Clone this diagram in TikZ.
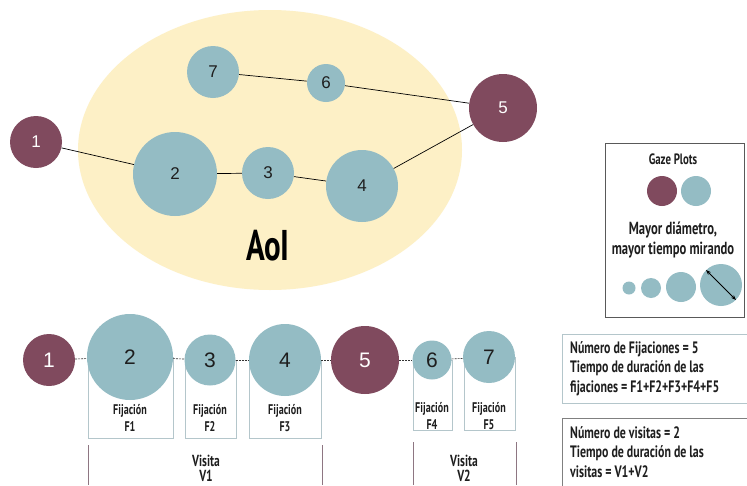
\documentclass[tikz,border=0pt]{standalone}
\usepackage{fontspec}
\setmainfont{PT Sans}[FakeStretch=0.72]
\newfontfamily\numfont{Liberation Sans}
\usetikzlibrary{arrows.meta}
\definecolor{gzmaroon}{HTML}{804A5E}
\definecolor{gzteal}{HTML}{94BCC4}
\definecolor{gzaoi}{HTML}{FDF0C6}
\definecolor{gzbox}{HTML}{B4C6CB}
\definecolor{gzvis}{HTML}{8E7682}
\definecolor{gztext}{HTML}{1E1E1E}
\begin{document}
\begin{tikzpicture}[x=1pt,y=-1pt,
  fixm/.style={circle, fill=gzmaroon, draw=none, inner sep=0pt, text=white, font=\numfont\fontsize{17}{17}\selectfont},
  fixt/.style={circle, fill=gzteal, draw=none, inner sep=0pt, text=gztext, font=\numfont\fontsize{17}{17}\selectfont},
  bignum/.style={font=\numfont\fontsize{21}{21}\selectfont},
  conn/.style={draw=black, line width=0.7pt},
  dashconn/.style={draw=black!80, line width=0.6pt, dash pattern=on 2pt off 1pt},
  fixbox/.style={draw=gzbox, line width=0.8pt},
  boxlabel/.style={align=center, text=gztext, font=\bfseries\fontsize{14}{17}\selectfont, inner sep=0pt},
  vline/.style={draw=gzvis, line width=0.9pt},
  vislabel/.style={align=center, text=gztext, font=\bfseries\fontsize{16}{15}\selectfont, inner sep=0pt},
  infotext/.style={align=left, anchor=north west, text=gztext, font=\bfseries\fontsize{16.5}{19.5}\selectfont, inner sep=0pt},
  legtext/.style={align=center, text=gztext, font=\bfseries\fontsize{17.5}{20}\selectfont, inner sep=0pt}
]
\useasboundingbox (0,0) rectangle (747,485);
\fill[white] (0,0) rectangle (747,485);

% ---- AoI area ----
\fill[gzaoi] (270,150) ellipse [x radius=192, y radius=140];
\node[text=black, font=\bfseries\fontsize{43}{43}\selectfont, inner sep=0pt] (aoilabel) at (268,246) {AoI};

% ---- top gaze plot ----
\node[fixm, minimum size=52pt] (t1) at (36,142) {1};
\node[fixt, minimum size=84pt] (t2) at (175,174) {2};
\node[fixt, minimum size=52pt] (t3) at (268,173) {3};
\node[fixt, minimum size=72pt] (t4) at (362,186) {4};
\node[fixm, minimum size=68pt] (t5) at (503,108) {5};
\node[fixt, minimum size=38pt] (t6) at (326,83) {6};
\node[fixt, minimum size=52pt] (t7) at (213,72) {7};
\draw[conn] (t1) -- (t2);
\draw[conn] (t2) -- (t3);
\draw[conn] (t3) -- (t4);
\draw[conn] (t4) -- (t5);
\draw[conn] (t5) -- (t6);
\draw[conn] (t6) -- (t7);

% ---- legend ----
\draw[draw=black!65, line width=1pt] (605,143) rectangle (744,317);
\node[legtext, font=\bfseries\fontsize{15}{15}\selectfont] (gazetitle) at (673,159) {Gaze Plots};
\node[fixm, minimum size=30pt] (lm) at (662,191) {};
\node[fixt, minimum size=30pt] (lt) at (696,191) {};
\node[legtext] (legdesc) at (673,240) {Mayor diámetro,\\mayor tiempo mirando};
\node[fixt, minimum size=13pt] (s1) at (629,288) {};
\node[fixt, minimum size=20pt] (s2) at (651,288) {};
\node[fixt, minimum size=30pt] (s3) at (681,287) {};
\node[fixt, minimum size=42pt] (s4) at (721,285) {};
\draw[line width=0.8pt, {Stealth[length=5pt]}-{Stealth[length=5pt]}] (s4.north west) -- (s4.south east);

% ---- bottom sequence: boxes ----
\draw[fixbox] (88,357) rectangle (173,438);
\draw[fixbox] (185,360) rectangle (236,438);
\draw[fixbox] (249,360) rectangle (321,438);
\draw[fixbox] (413,360) rectangle (452,430);
\draw[fixbox] (464,357) rectangle (515,430);

% ---- bottom sequence: circles ----
\node[fixm, bignum, minimum size=52pt] (b1) at (49,360) {1};
\node[fixt, bignum, text=gztext, minimum size=86pt] (b2) at (130,357) {2};
\node[fixt, bignum, text=gztext, minimum size=51pt] (b3) at (210,360) {3};
\node[fixt, bignum, text=gztext, minimum size=72pt] (b4) at (285,360) {4};
\node[fixm, bignum, text=white, minimum size=68pt] (b5) at (365,360) {5};
\node[fixt, bignum, text=gztext, minimum size=39pt] (b6) at (432,360) {6};
\node[fixt, bignum, text=gztext, minimum size=52pt] (b7) at (489,357) {7};
\draw[dashconn] (b1) -- (b2);
\draw[dashconn] (b2) -- (b3);
\draw[dashconn] (b3) -- (b4);
\draw[dashconn] (b4) -- (b5);
\draw[dashconn] (b5) -- (b6);
\draw[dashconn] (b6) -- (b7);

\node[boxlabel] (f1) at (130,418) {Fijación\\F1};
\node[boxlabel] (f2) at (210,418) {Fijación\\F2};
\node[boxlabel] (f3) at (285,418) {Fijación\\F3};
\node[boxlabel] (f4) at (432,416) {Fijación\\F4};
\node[boxlabel] (f5) at (489,416) {Fijación\\F5};

% ---- visits ----
\draw[vline] (88,445) -- (88,485);
\draw[vline] (322,445) -- (322,485);
\node[vislabel] (v1) at (206,468.5) {Visita\\V1};
\draw[vline] (413,442) -- (413,485);
\draw[vline] (516,442) -- (516,485);
\node[vislabel] (v2) at (464,468.5) {Visita\\V2};

% ---- info boxes ----
\draw[draw=gzbox, line width=0.9pt] (562,334) rectangle (760,403);
\node[infotext] (infofix) at (570,341) {Número de Fijaciones = 5\\Tiempo de duración de las\\fijaciones = F1+F2+F3+F4+F5};
\draw[draw=black!50, line width=0.9pt] (562,418) rectangle (760,500);
\node[infotext] (infovis) at (570,426) {Número de visitas = 2\\Tiempo de duración de las\\visitas = V1+V2};
\end{tikzpicture}
\end{document}
